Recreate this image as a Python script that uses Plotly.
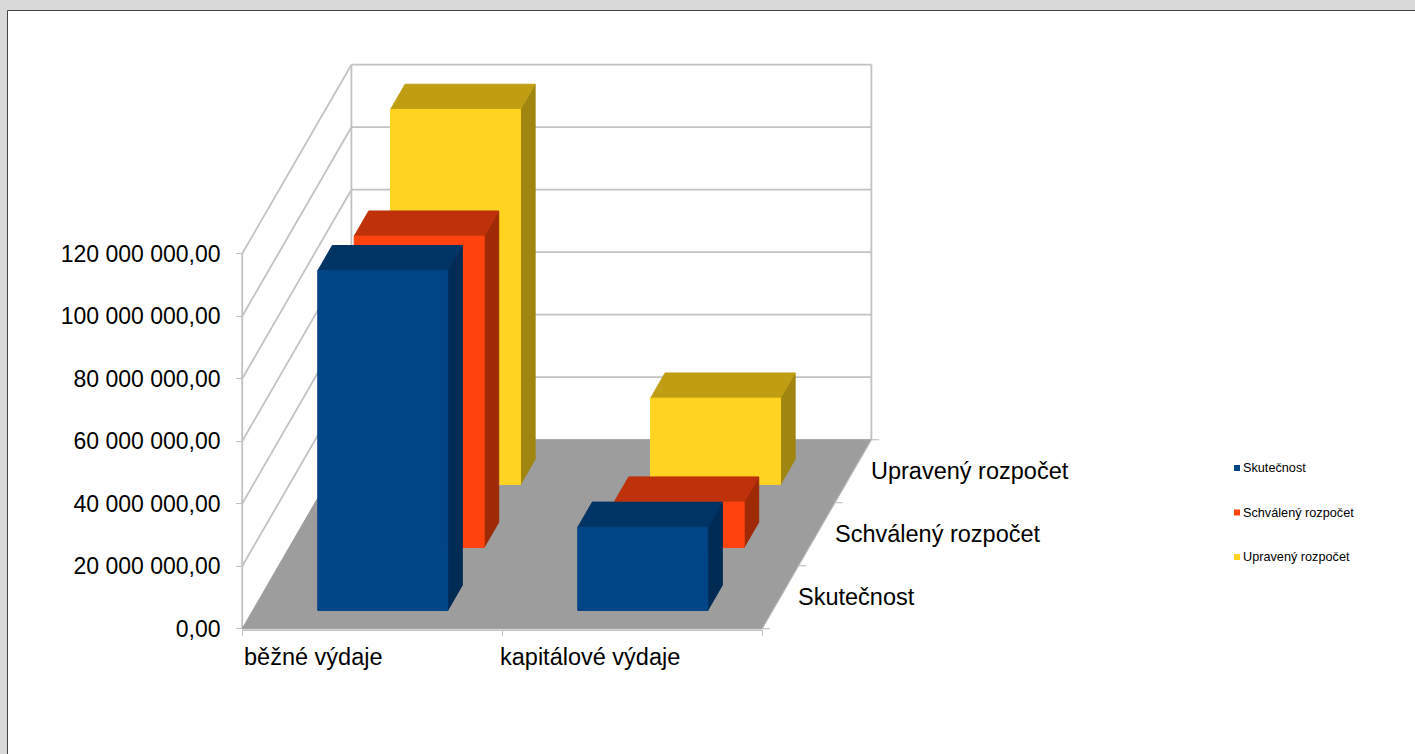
import plotly.graph_objects as go

# ---- data ----
categories = ["běžné výdaje", "kapitálové výdaje"]
series_names = ["Skutečnost", "Schválený rozpočet", "Upravený rozpočet"]
skutecnost = [108_700_000, 26_600_000]
schvaleny = [99_600_000, 14_500_000]
upraveny = [120_000_000, 27_600_000]
series_values = [skutecnost, schvaleny, upraveny]
front_colors = ["#004586", "#ff420e", "#ffd320"]
top_colors = ["#003465", "#bf3209", "#bf9e14"]
side_colors = ["#002b54", "#9f2a06", "#a08510"]
y_ticks = [0, 20_000_000, 40_000_000, 60_000_000, 80_000_000, 100_000_000, 120_000_000]
y_tick_labels = ["0,00", "20 000 000,00", "40 000 000,00", "60 000 000,00",
                 "80 000 000,00", "100 000 000,00", "120 000 000,00"]

# ---- layout constants ----
W, H = 1415, 754
X0_PX, UNIT_PX = 242.2, 260.0      # pixel of category coordinate 0, pixels per category
Y0_PX, PX_PER_VALUE = 628.7, 3.125e-6
DEPTH_DX = 36.4 / UNIT_PX          # oblique shift per series slot, in category units
DEPTH_DY = 63.0 / PX_PER_VALUE     # oblique shift per series slot, in value units
BAR_D0, BAR_D1 = 0.29, 0.69
BAR_C0, BAR_C1 = 0.25, 0.75
GRID = "#c2c2c2"
FONT = "Liberation Sans"


def proj(c, d, v):
    return c + d * DEPTH_DX, v + d * DEPTH_DY


def poly(points, fill, line=None, width=1, name=None):
    xs, ys = zip(*[proj(*p) for p in points])
    return go.Scatter(x=list(xs) + [xs[0]], y=list(ys) + [ys[0]], mode="lines", fill="toself",
                      fillcolor=fill, line=dict(color=line or fill, width=width),
                      name=name, hoverinfo="name" if name else "skip", showlegend=False)


def seg(a, b, width=1.8):
    xs, ys = zip(proj(*a), proj(*b))
    return go.Scatter(x=list(xs), y=list(ys), mode="lines", line=dict(color=GRID, width=width),
                      hoverinfo="skip", showlegend=False)


fig = go.Figure()
n_cat, n_ser = len(categories), len(series_names)
top_value = max(y_ticks)

# walls
for t in y_ticks[1:]:
    fig.add_trace(seg((0, 0, t), (0, n_ser, t)))
    fig.add_trace(seg((0, n_ser, t), (n_cat, n_ser, t)))
fig.add_trace(seg((0, 0, 0), (0, 0, top_value)))
fig.add_trace(seg((0, n_ser, 0), (0, n_ser, top_value)))
fig.add_trace(seg((n_cat, n_ser, 0), (n_cat, n_ser, top_value)))

# floor
fig.add_trace(poly([(0, 0, 0), (n_cat, 0, 0), (n_cat, n_ser, 0), (0, n_ser, 0)],
                   "#9d9d9d", line="#9d9d9d", width=1))
fig.add_trace(seg((0, 0, -500_000), (n_cat, 0, -500_000), width=1.4))
fig.add_trace(seg((n_cat, 0, 0), (n_cat, n_ser, 0), width=1))

# bars, back to front
for s in reversed(range(n_ser)):
    d0, d1 = s + BAR_D0, s + BAR_D1
    for c in range(n_cat):
        v = series_values[s][c]
        c0, c1 = c + BAR_C0, c + BAR_C1
        name = f"{series_names[s]} – {categories[c]}"
        fig.add_trace(poly([(c1, d0, 0), (c1, d1, 0), (c1, d1, v), (c1, d0, v)], side_colors[s], name=name))
        fig.add_trace(poly([(c0, d0, v), (c1, d0, v), (c1, d1, v), (c0, d1, v)], top_colors[s], name=name))
        fig.add_trace(poly([(c0, d0, 0), (c1, d0, 0), (c1, d0, v), (c0, d0, v)], front_colors[s], name=name))

# depth-axis ticks
for s in range(n_ser + 1):
    px, py = proj(n_cat, s, 0)
    fig.add_trace(go.Scatter(x=[px, px + 7.5 / UNIT_PX], y=[py, py], mode="lines",
                             line=dict(color=GRID, width=1.2), hoverinfo="skip", showlegend=False))

annotations = []
# category labels
for c, (label, shift) in enumerate(zip(categories, [0, -4])):
    annotations.append(dict(x=c, y=0, xref="x", yref="y", text=label, showarrow=False,
                            xanchor="left", yanchor="middle", xshift=shift, yshift=-28,
                            font=dict(family=FONT, size=23.5, color="black")))
# depth labels
for s, label in enumerate(series_names):
    px, py = proj(n_cat, s + 0.5, 0)
    annotations.append(dict(x=px, y=py, xref="x", yref="y", text=label, showarrow=False,
                            xanchor="left", yanchor="middle", xshift=16,
                            font=dict(family=FONT, size=23.5, color="black")))
# legend
shapes = [dict(type="rect", xref="paper", yref="paper", x0=7.5 / W, x1=1.01,
               y0=-0.01, y1=1 - 10.5 / H, fillcolor="white",
               line=dict(color="#444444", width=1), layer="below")]
legend_y_px = [468, 512.5, 557]
for name, col, ly in zip(series_names, front_colors, legend_y_px):
    shapes.append(dict(type="rect", xref="paper", yref="paper", x0=1234 / W, x1=1240 / W,
                       y0=1 - (ly + 3) / H, y1=1 - (ly - 3) / H, fillcolor=col, line=dict(width=0)))
    annotations.append(dict(x=1241 / W, y=1 - ly / H, xref="paper", yref="paper", text=name,
                            showarrow=False, xanchor="left", yanchor="middle",
                            font=dict(family=FONT, size=12.7, color="black")))

fig.update_layout(
    width=W, height=H, margin=dict(l=0, r=0, t=0, b=0),
    paper_bgcolor="#d9d9d9", plot_bgcolor="rgba(0,0,0,0)", showlegend=False,
    shapes=shapes, annotations=annotations,
    xaxis=dict(range=[-X0_PX / UNIT_PX, (W - X0_PX) / UNIT_PX], tickvals=list(range(n_cat + 1)),
               showticklabels=False, ticks="outside", ticklen=6, tickcolor=GRID, tickwidth=1.2,
               showgrid=False, zeroline=False, showline=False,
               anchor="free", position=(H - Y0_PX) / H),
    yaxis=dict(range=[-(H - Y0_PX) / PX_PER_VALUE, Y0_PX / PX_PER_VALUE], tickvals=y_ticks,
               ticktext=y_tick_labels, ticks="outside", ticklen=6, tickcolor=GRID, tickwidth=1.2,
               showgrid=False, zeroline=False, showline=False,
               tickfont=dict(family=FONT, size=23, color="black"), ticklabelstandoff=11,
               anchor="free", position=X0_PX / W),
)
fig.write_html("out.html", config=dict(displayModeBar=False),
               post_script="document.body.style.margin='0';document.body.style.overflow='hidden';")
